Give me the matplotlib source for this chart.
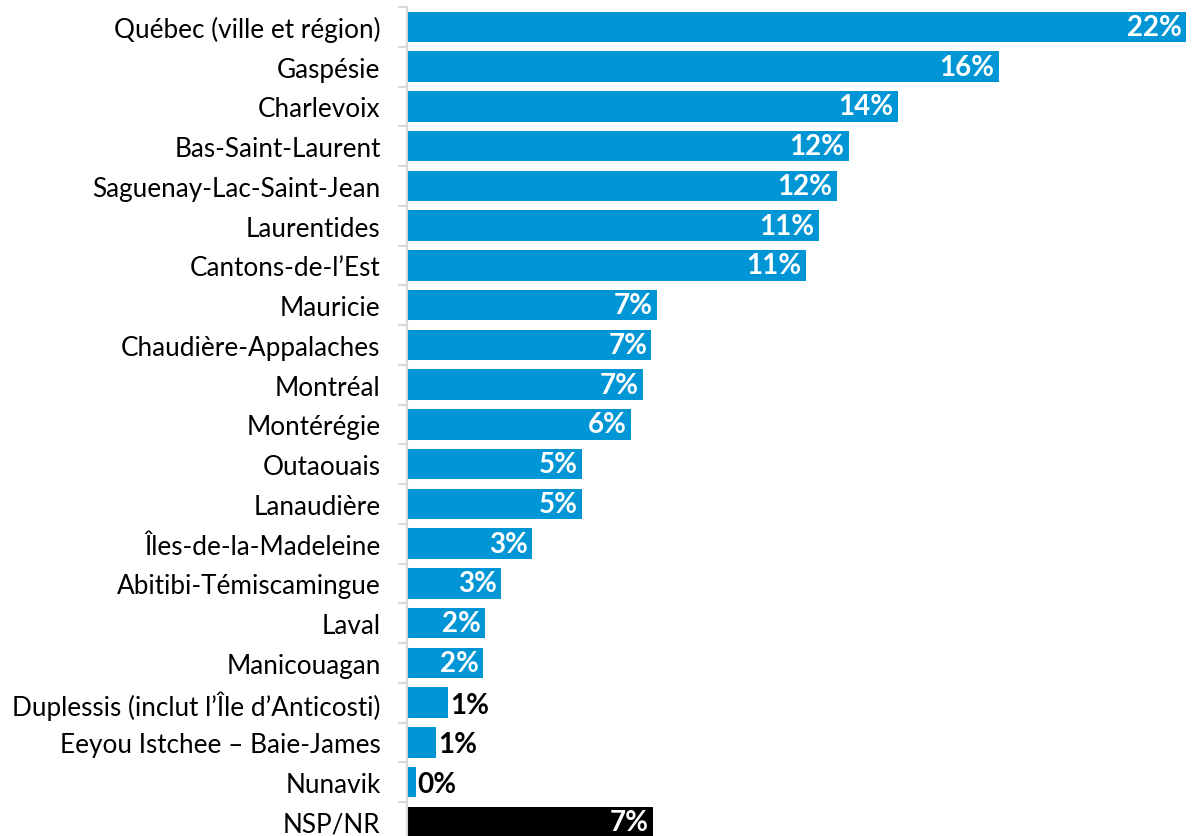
import matplotlib.pyplot as plt
import numpy as np

regions = [
    'Québec (ville et région)', 'Gaspésie', 'Charlevoix', 'Bas-Saint-Laurent',
    'Saguenay-Lac-Saint-Jean', 'Laurentides', 'Cantons-de-l\u2019Est', 'Mauricie',
    'Chaudière-Appalaches', 'Montréal', 'Montérégie', 'Outaouais', 'Lanaudière',
    'Îles-de-la-Madeleine', 'Abitibi-Témiscamingue', 'Laval', 'Manicouagan',
    'Duplessis (inclut l\u2019Île d\u2019Anticosti)', 'Eeyou Istchee \u2013 Baie-James',
    'Nunavik', 'NSP/NR',
]
values = [21.64, 16.44, 13.63, 12.27, 11.94, 11.44, 11.07, 6.94, 6.79, 6.56, 6.23,
          4.87, 4.86, 3.47, 2.61, 2.17, 2.11, 1.15, 0.81, 0.24, 6.84]
labels = ['22%', '16%', '14%', '12%', '12%', '11%', '11%', '7%', '7%', '7%', '6%',
          '5%', '5%', '3%', '3%', '2%', '2%', '1%', '1%', '0%', '7%']

blue = '#0096d6'
plt.rcParams['font.family'] = ['Lato', 'DejaVu Sans']

W, H = 1192, 837
fig = plt.figure(figsize=(W / 100, H / 100), dpi=100)
left, right_px = 407, W
top_px, bottom_px = 8, 842.75
ax = fig.add_axes([left / W, (H - bottom_px) / H, (right_px - left) / W,
                   (bottom_px - top_px) / H])

n = len(regions)
y = np.arange(n)
colors = [blue] * (n - 1) + ['#000000']
ax.barh(y, values, height=0.77, color=colors, edgecolor='none')

ax.set_ylim(n - 0.5, -0.5)
ax.set_xlim(0, (right_px - left) / 36.0)

for i, (v, lab) in enumerate(zip(values, labels)):
    if v < 1.5:
        ax.annotate(lab, (v, i), xytext=(1.5, -1.5), textcoords='offset points',
                    ha='left', va='center', fontsize=20, fontweight='bold', color='black')
    else:
        ax.annotate(lab, (v, i), xytext=(-3, 0), textcoords='offset points',
                    ha='right', va='center', fontsize=20, fontweight='bold', color='white')

for s in ['top', 'right', 'bottom']:
    ax.spines[s].set_visible(False)
ax.spines['left'].set_color('#d9d9d9')
ax.spines['left'].set_linewidth(1.5)
ax.set_xticks([])
ax.set_yticks(y)
ax.set_yticklabels(regions, fontsize=18.8)
ax.tick_params(axis='y', which='major', length=0, pad=19)
ax.set_yticks(np.arange(-0.5, n, 1), minor=True)
ax.tick_params(axis='y', which='minor', length=6.5, width=1.5, color='#d9d9d9')

fig.savefig('out.png', dpi=100)
